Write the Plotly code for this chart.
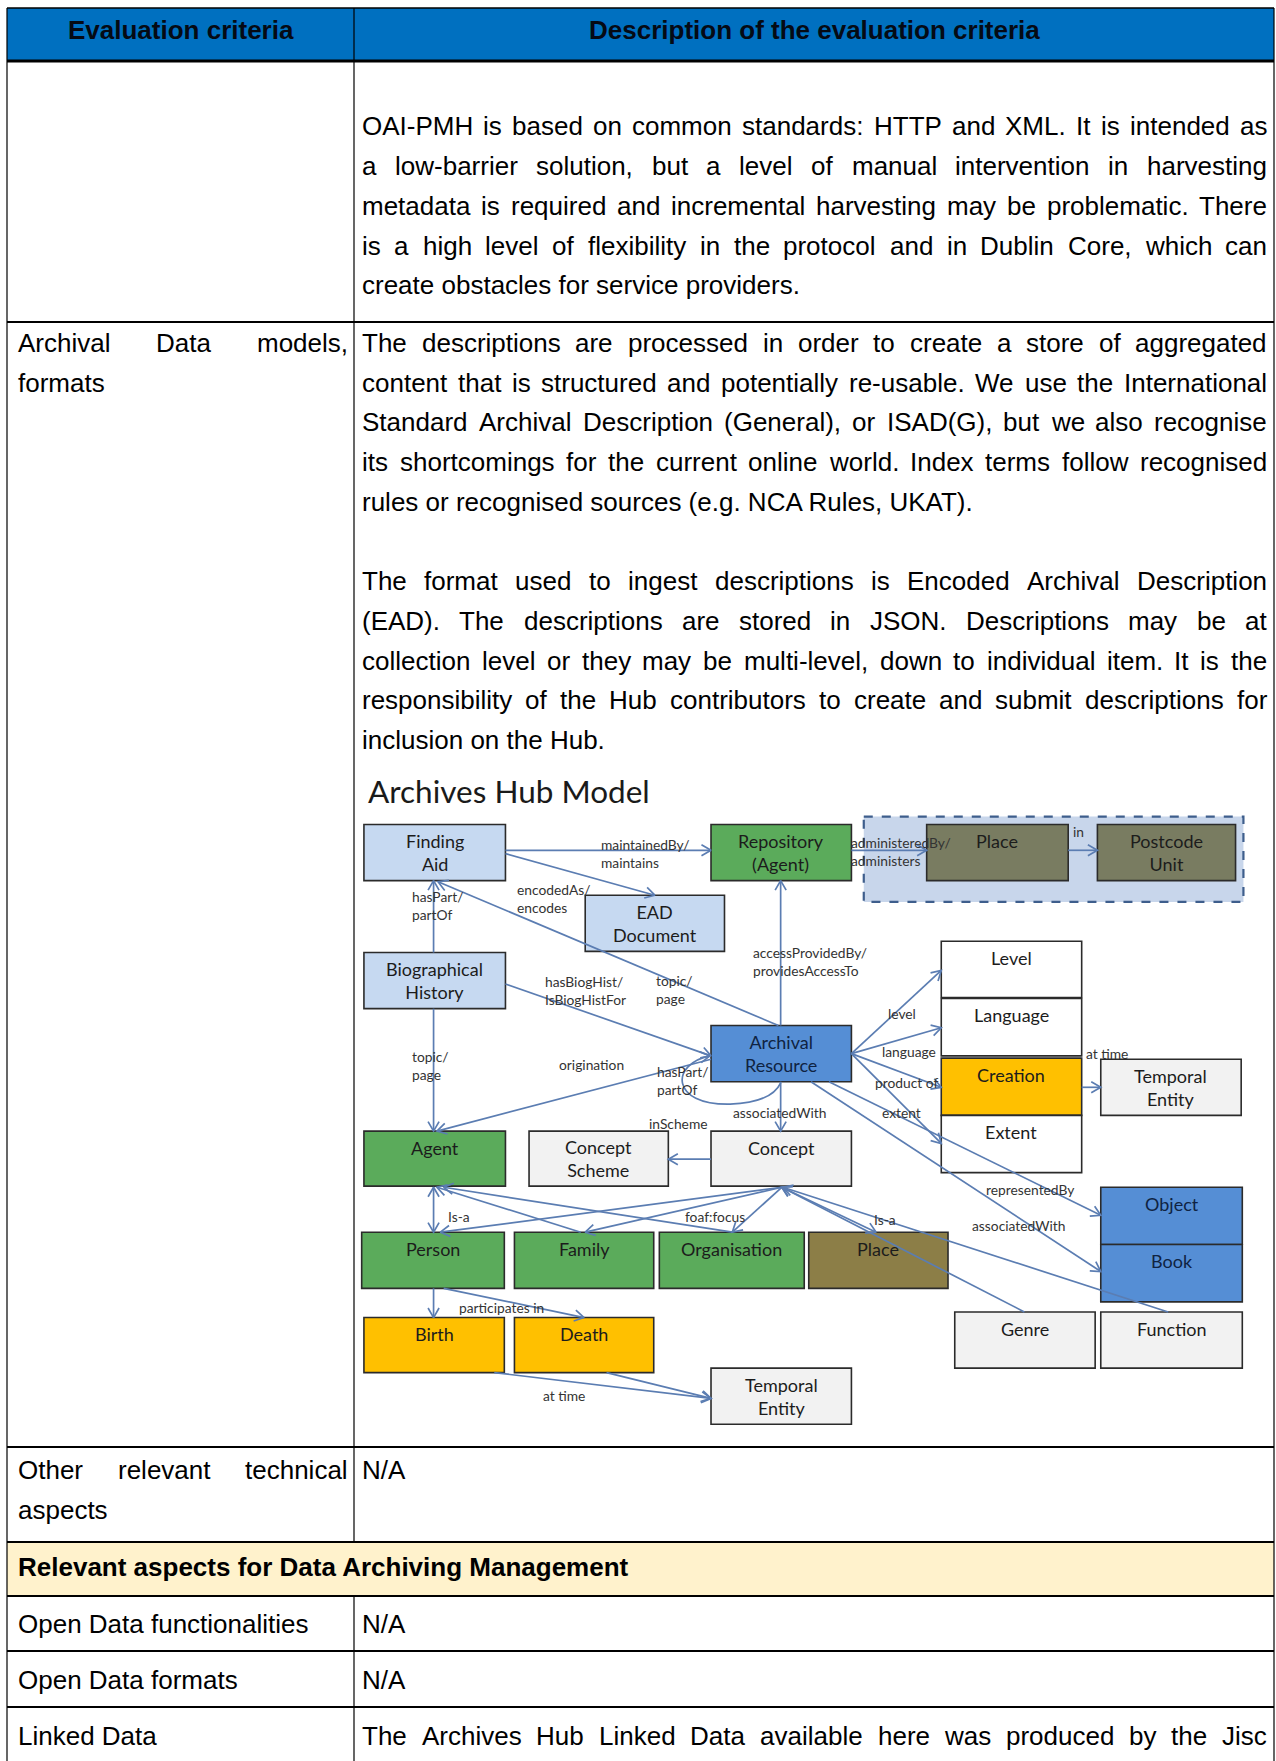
import math
import plotly.graph_objects as go

W, H = 1276, 1761
K = W / 1136.0  # diagram drawing units -> page pixels

# ---------------------------------------------------------------- table text
HEADER = ["Evaluation criteria", "Description of the evaluation criteria"]
OAI_LINES = [
    "OAI-PMH is based on common standards: HTTP and XML. It is intended as",
    "a low-barrier solution, but a level of manual intervention in harvesting",
    "metadata is required and incremental harvesting may be problematic. There",
    "is a high level of flexibility in the protocol and in Dublin Core, which can",
    "create obstacles for service providers.",
]
ARCH_LEFT = ["Archival Data models,", "formats"]
ARCH_P1 = [
    "The descriptions are processed in order to create a store of aggregated",
    "content that is structured and potentially re-usable. We use the International",
    "Standard Archival Description (General), or ISAD(G), but we also recognise",
    "its shortcomings for the current online world. Index terms follow recognised",
    "rules or recognised sources (e.g. NCA Rules, UKAT).",
]
ARCH_P2 = [
    "The format used to ingest descriptions is Encoded Archival Description",
    "(EAD). The descriptions are stored in JSON. Descriptions may be at",
    "collection level or they may be multi-level, down to individual item. It is the",
    "responsibility of the Hub contributors to create and submit descriptions for",
    "inclusion on the Hub.",
]
OTHER_LEFT = ["Other relevant technical", "aspects"]
OTHER_RIGHT = ["N/A"]
SECTION = "Relevant aspects for Data Archiving Management"
BOTTOM_LEFT = ["Open Data functionalities", "Open Data formats", "Linked Data"]
BOTTOM_RIGHT = ["N/A", "N/A",
                "The Archives Hub Linked Data available here was produced by the Jisc"]

# ---------------------------------------------------------------- diagram content
DIAGRAM_TITLE = "Archives Hub Model"
NODE_IDS = ["finding", "repo", "ead", "biog", "place_top", "postcode", "level", "language",
            "creation", "extent", "temporal1", "archival", "agent", "cscheme", "concept",
            "object", "book", "person", "family", "org", "place", "genre", "function",
            "birth", "death", "temporal2"]
NODE_TEXT = ["Finding<br>Aid", "Repository<br>(Agent)", "EAD<br>Document", "Biographical<br>History",
             "Place", "Postcode<br>Unit", "Level", "Language", "Creation", "Extent",
             "Temporal<br>Entity", "Archival<br>Resource", "Agent", "Concept<br>Scheme", "Concept",
             "Object", "Book", "Person", "Family", "Organisation", "Place", "Genre", "Function",
             "Birth", "Death", "Temporal<br>Entity"]
NODE_KIND = ["doc", "agent", "doc", "doc", "geo", "geo", "plain", "plain", "event", "plain",
             "concept", "res", "agent", "concept", "concept", "res", "res", "agent", "agent",
             "agent", "place", "concept", "concept", "event", "event", "concept"]
EDGE_TEXT = ["maintainedBy/<br>maintains", "encodedAs/<br>encodes", "hasPart/<br>partOf",
             "hasBiogHist/<br>IsBiogHistFor", "topic/<br>page", "accessProvidedBy/<br>providesAccessTo",
             "administeredBy/<br>administers", "in", "topic/<br>page", "origination",
             "hasPart/<br>partOf", "associatedWith", "inScheme", "level", "language", "product of",
             "extent", "at time", "representedBy", "associatedWith", "Is-a", "foaf:focus", "Is-a",
             "participates in", "at time"]

# ---------------------------------------------------------------- styling / geometry
FONT_T = "Liberation Sans, Arial, sans-serif"
FONT_D = "Lato, Carlito, Calibri, sans-serif"
KIND_FILL = {"doc": "#C6D9F1", "agent": "#5BAB5B", "geo": "#797C61", "place": "#8C7E47",
             "res": "#558ED5", "event": "#FFC000", "plain": "#FFFFFF", "concept": "#F2F2F2"}
KIND_TEXT = {"res": "#0F2342"}
EDGE_COLOR = "#5B7DB2"

# boxes in drawing units: x0, x1, y0, y1, label anchor ("c" centre / "t" top line)
NODE_BOX = {
    "finding": (324, 450, 734, 784, "c"), "repo": (633, 758, 734, 784, "c"),
    "ead": (521, 645, 797, 847, "c"), "biog": (324, 450, 848, 898, "c"),
    "place_top": (825, 951, 734, 784, "t"), "postcode": (977, 1100, 734, 784, "c"),
    "level": (838, 963, 838, 888, "t"), "language": (838, 963, 889, 940, "t"),
    "creation": (838, 963, 942, 993, "t"), "extent": (838, 963, 993, 1044, "t"),
    "temporal1": (980, 1105, 943, 993, "c"), "archival": (633, 758, 913, 963, "c"),
    "agent": (324, 450, 1007, 1056, "t"), "cscheme": (471, 595, 1007, 1056, "c"),
    "concept": (633, 758, 1007, 1056, "t"), "object": (980, 1106, 1057, 1108, "t"),
    "book": (980, 1106, 1108, 1159, "t"), "person": (322, 449, 1097, 1147, "t"),
    "family": (458, 582, 1097, 1147, "t"), "org": (587, 716, 1097, 1147, "t"),
    "place": (720, 844, 1097, 1147, "t"), "genre": (850, 975, 1168, 1218, "t"),
    "function": (980, 1106, 1168, 1218, "t"), "birth": (324, 449, 1173, 1222, "t"),
    "death": (458, 582, 1173, 1222, "t"), "temporal2": (633, 758, 1218, 1268, "c"),
}
DASH_REGION = (769, 1107, 727, 803)
TITLE_POS = (328, 704)

# edge routes (drawing units): start, end, heads
EDGE_ROUTES = [
    ((450, 757), (633, 757), "end"), ((450, 760), (583, 797), "end"),
    ((386, 848), (386, 784), "end"), ((693, 913), (390, 785), "end"),
    ((450, 876), (633, 940), "end"), ((695, 913), (695, 784), "end"),
    ((758, 757), (825, 757), "end"), ((951, 757), (977, 757), "end"),
    ((386, 898), (386, 1007), "end"), ((633, 943), (389, 1007), "end"),
    ((695, 963), (695, 1007), "end"), ((633, 1032), (595, 1032), "end"),
    ((758, 938), (838, 864), "end"), ((758, 938), (838, 915), "end"),
    ((758, 938), (838, 968), "end"), ((758, 938), (838, 1018), "end"),
    ((963, 968), (980, 968), "end"), ((738, 963), (980, 1082), "end"),
    ((722, 963), (980, 1132), "end"),
    ((696, 1057), (392, 1097), "end"), ((696, 1057), (521, 1097), "end"),
    ((696, 1057), (652, 1097), "end"), ((696, 1057), (780, 1097), "both"),
    ((912, 1168), (696, 1057), "end"), ((1040, 1168), (697, 1057), "end"),
    ((386, 1097), (386, 1057), "both"), ((517, 1097), (389, 1057), "end"),
    ((652, 1097), (395, 1057), "end"),
    ((386, 1147), (386, 1173), "end"), ((395, 1147), (520, 1173), "end"),
    ((440, 1222), (633, 1245), "end"), ((540, 1222), (633, 1245), "end"),
]
EDGE_LABEL_POS = [(535, 760), (460, 800), (367, 806), (485, 882), (584, 881), (670, 856),
                  (758, 758), (955, 740), (367, 949), (498, 948), (585, 962), (653, 990),
                  (578, 1000), (791, 902), (785, 936), (779, 964), (785, 990), (967, 938),
                  (878, 1059), (865, 1091), (399, 1083), (610, 1083), (778, 1086),
                  (409, 1164), (483, 1242)]

# table geometry (page px)
TL, TR, TM = 7, 1274, 354
T_TOP, T_HEAD = 8, 61
ROW_LINES = [322, 1447, 1542, 1596, 1651, 1707]
LX0, LX1, RX0, RX1 = 18, 348, 362, 1267
TSIZE = 26
LSTEP = 39.9

# Arial / Liberation Sans advance widths (1/1000 em)
AW = {" ": 278, ".": 278, ",": 278, ":": 278, ";": 278, "-": 333, "(": 333, ")": 333, "/": 278}
AW.update(dict(zip("abcdefghijklmnopqrstuvwxyz",
                   [556, 556, 500, 556, 556, 278, 556, 556, 222, 222, 500, 222, 833, 556, 556,
                    556, 556, 333, 500, 278, 556, 500, 722, 500, 500, 500])))
AW.update(dict(zip("ABCDEFGHIJKLMNOPQRSTUVWXYZ",
                   [667, 667, 722, 722, 667, 611, 778, 722, 278, 500, 667, 556, 833, 722, 778,
                    667, 778, 722, 667, 611, 722, 667, 944, 667, 667, 611])))

annotations = []
shapes = []


def ann(x, y, text, size, family, color, xanchor="left", align="left"):
    annotations.append(dict(x=x, y=y, xref="x", yref="y", text=text, showarrow=False,
                            xanchor=xanchor, yanchor="middle", align=align,
                            font=dict(size=size, family=family, color=color),
                            borderpad=0, borderwidth=0))


def tw(s, size):
    return sum(AW.get(c, 556) for c in s) * size / 1000.0


def put_line(line, x0, x1, y, justify):
    if not justify:
        ann(x0, y, line, TSIZE, FONT_T, "#000000")
        return
    words = line.split(" ")
    ws = [tw(w, TSIZE) for w in words]
    gap = (x1 - x0 - sum(ws)) / (len(words) - 1)
    x = x0
    for w, wd in zip(words, ws):
        ann(x, y, w, TSIZE, FONT_T, "#000000")
        x += wd + gap


def put_para(lines, x0, x1, y0, justify_last=False):
    for i, ln in enumerate(lines):
        last = i == len(lines) - 1
        put_line(ln, x0, x1, y0 + i * LSTEP, (not last) or justify_last)


# ---------------------------------------------------------------- table drawing
shapes.append(dict(type="rect", x0=TL, x1=TR, y0=T_TOP, y1=T_HEAD, fillcolor="#0070C0",
                   line=dict(width=0), layer="below"))
shapes.append(dict(type="rect", x0=TL, x1=TR, y0=ROW_LINES[2], y1=ROW_LINES[3],
                   fillcolor="#FFF2CC", line=dict(width=0), layer="below"))
for yy, wdt in [(T_TOP, 1.5), (T_HEAD, 3)] + [(r, 2.2) for r in ROW_LINES]:
    shapes.append(dict(type="line", x0=TL, x1=TR, y0=yy, y1=yy, line=dict(color="#000", width=wdt)))
for xx in (TL, TR):
    shapes.append(dict(type="line", x0=xx, x1=xx, y0=T_TOP, y1=H, line=dict(color="#000", width=1.2)))
shapes.append(dict(type="line", x0=TM, x1=TM, y0=T_TOP, y1=ROW_LINES[2], line=dict(color="#000", width=1.2)))
shapes.append(dict(type="line", x0=TM, x1=TM, y0=ROW_LINES[3], y1=H, line=dict(color="#000", width=1.2)))

ann((TL + TM) / 2, 29.5, "<b>%s</b>" % HEADER[0], TSIZE, FONT_T, "#050A14", xanchor="center")
ann((TM + TR) / 2, 29.5, "<b>%s</b>" % HEADER[1], TSIZE, FONT_T, "#050A14", xanchor="center")

put_para(OAI_LINES, RX0, RX1, 125.8)
put_para(ARCH_LEFT, LX0, LX1, 342.6)
put_para(ARCH_P1, RX0, RX1, 342.6)
put_para(ARCH_P2, RX0, RX1, 580.7)
put_para(OTHER_LEFT, LX0, LX1, 1470.3)
put_para(OTHER_RIGHT, RX0, RX1, 1470.3)
ann(LX0, 1567, "<b>%s</b>" % SECTION, TSIZE, FONT_T, "#000000")
for i, ypos in enumerate([1624, 1680, 1736]):
    put_line(BOTTOM_LEFT[i], LX0, LX1, ypos, False)
    put_line(BOTTOM_RIGHT[i], RX0, RX1, ypos, i == 2)

# ---------------------------------------------------------------- diagram drawing
def P(v):
    return v * K


dx0, dx1, dy0, dy1 = DASH_REGION
shapes.append(dict(type="rect", x0=P(dx0), x1=P(dx1), y0=P(dy0), y1=P(dy1), fillcolor="#C8D6EB",
                   line=dict(color="#3E5E8C", width=2.2, dash="dash"), layer="below"))

for nid, text, kind in zip(NODE_IDS, NODE_TEXT, NODE_KIND):
    x0, x1, y0, y1, anchor = NODE_BOX[nid]
    shapes.append(dict(type="rect", x0=P(x0), x1=P(x1), y0=P(y0), y1=P(y1),
                       fillcolor=KIND_FILL[kind], line=dict(color="#2B2B2B", width=1.6), layer="below"))
    ly = (y0 + y1) / 2 if anchor == "c" else y0 + 15
    ann(P((x0 + x1) / 2), P(ly), text, 18, FONT_D, KIND_TEXT.get(kind, "#1C1C1C"),
        xanchor="center", align="center")

ann(P(TITLE_POS[0]), P(TITLE_POS[1]), DIAGRAM_TITLE, 31.5, FONT_D, "#1A1A1A")


def head(tip, frm, L=11.0, ang=30.0):
    ddx, ddy = tip[0] - frm[0], tip[1] - frm[1]
    d = math.hypot(ddx, ddy)
    ux, uy = ddx / d, ddy / d
    pts = []
    for s in (1, -1):
        a = math.radians(ang) * s
        rx = ux * math.cos(a) - uy * math.sin(a)
        ry = ux * math.sin(a) + uy * math.cos(a)
        pts.append((tip[0] - L * rx, tip[1] - L * ry))
    return [pts[0], tip, pts[1]]


ex, ey = [], []
for (a, b, heads) in EDGE_ROUTES:
    A = (P(a[0]), P(a[1]))
    B = (P(b[0]), P(b[1]))
    ex += [A[0], B[0], None]
    ey += [A[1], B[1], None]
    tips = [(B, A)] + ([(A, B)] if heads == "both" else [])
    for tip, frm in tips:
        hp = head(tip, frm)
        ex += [p[0] for p in hp] + [None]
        ey += [p[1] for p in hp] + [None]

# self loop on Archival Resource (hasPart/partOf)
loop = "M %.1f %.1f C %.1f %.1f %.1f %.1f %.1f %.1f C %.1f %.1f %.1f %.1f %.1f %.1f" % (
    P(632), P(940), P(597), P(947), P(596), P(984), P(650), P(983),
    P(675), P(982), P(690), P(975), P(695), P(964))
shapes.append(dict(type="path", path=loop, line=dict(color=EDGE_COLOR, width=1.7)))
hp = head((P(632), P(940)), (P(618), P(942)))
ex += [p[0] for p in hp] + [None]
ey += [p[1] for p in hp] + [None]

for txt, (lx, ly) in zip(EDGE_TEXT, EDGE_LABEL_POS):
    ann(P(lx), P(ly), txt, 13.8, FONT_D, "#333333")

fig = go.Figure()
fig.add_trace(go.Scatter(x=ex, y=ey, mode="lines", line=dict(color=EDGE_COLOR, width=1.7),
                         hoverinfo="skip", showlegend=False))
fig.update_layout(
    width=W, height=H, margin=dict(l=0, r=0, t=0, b=0),
    paper_bgcolor="#FFFFFF", plot_bgcolor="#FFFFFF",
    xaxis=dict(range=[0, W], visible=False, fixedrange=True),
    yaxis=dict(range=[H, 0], visible=False, fixedrange=True),
    shapes=shapes, annotations=annotations, showlegend=False,
)
fig.write_html("out.html", config={"displayModeBar": False},
               post_script="document.body.style.margin='0';document.body.style.overflow='hidden';")
